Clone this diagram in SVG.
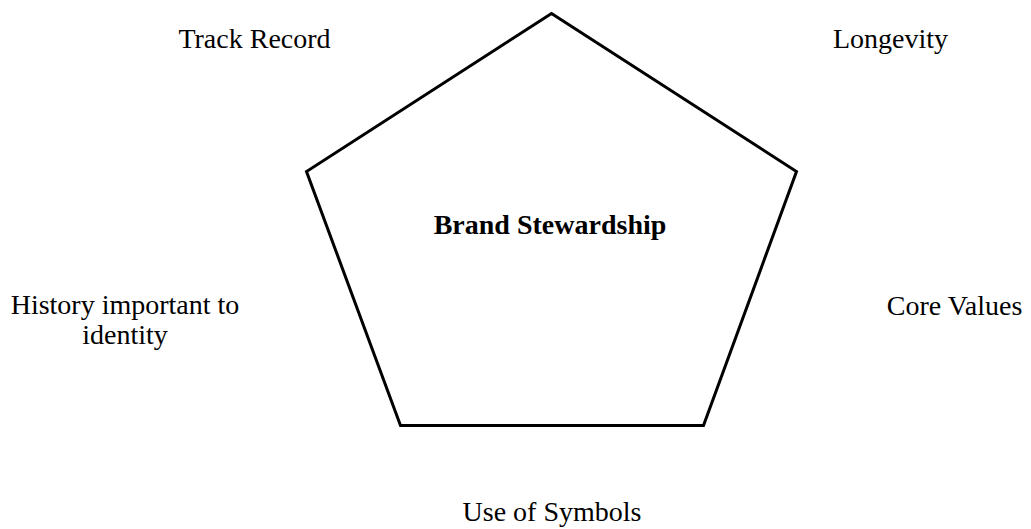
<svg xmlns="http://www.w3.org/2000/svg" width="1031" height="529" viewBox="0 0 1031 529">
<style>
text{font-family:"Liberation Serif","Times New Roman",serif;font-size:28px;fill:#000}
.b{font-weight:bold}
.shape{fill:none;stroke:#000;stroke-width:3;stroke-linejoin:miter}
</style>
<rect width="1031" height="529" fill="#fff"/>
<g id="pentagon">
<polygon class="shape" points="551.5,13.5 796.5,171.5 703.5,425.5 400.5,425.5 306.5,171.5"/>
<text class="b" x="550" y="234" text-anchor="middle">Brand Stewardship</text>
</g>
<g id="track-record"><text x="254.5" y="48" text-anchor="middle">Track Record</text></g>
<g id="longevity"><text x="890.5" y="48" text-anchor="middle">Longevity</text></g>
<g id="history"><text x="125" y="314" text-anchor="middle">History important to</text><text x="125" y="344" text-anchor="middle">identity</text></g>
<g id="core-values"><text x="954.5" y="315" text-anchor="middle">Core Values</text></g>
<g id="symbols"><text x="552" y="521" text-anchor="middle">Use of Symbols</text></g>
<g id="connectors"></g>
</svg>
